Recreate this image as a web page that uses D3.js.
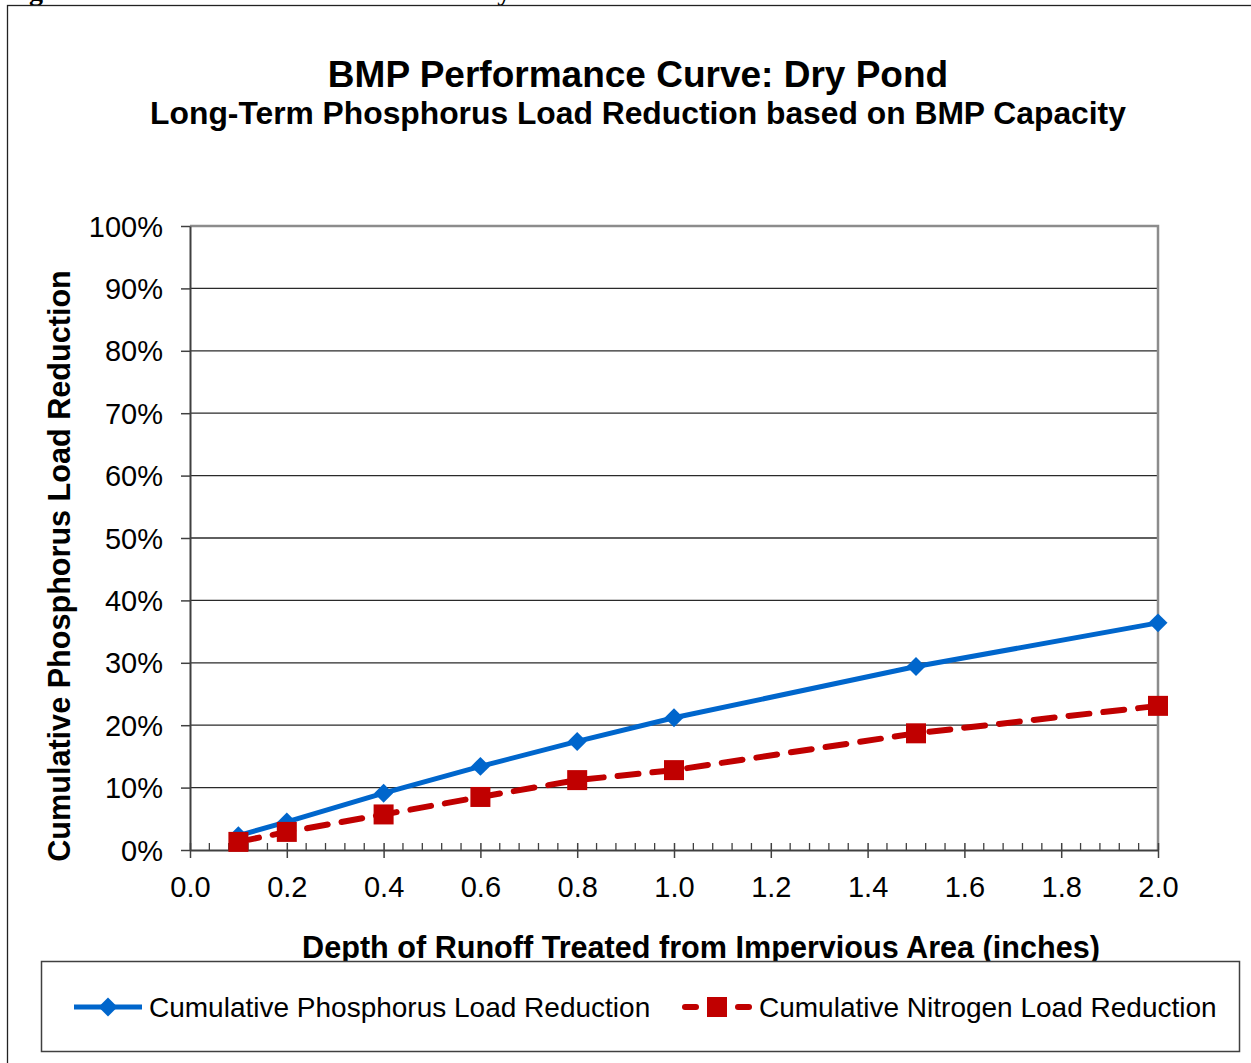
<!DOCTYPE html>
<html>
<head>
<meta charset="utf-8">
<script src="https://cdn.jsdelivr.net/npm/d3@7"></script>
<style>
  html, body { margin: 0; padding: 0; background: #fff; overflow: hidden; }
  svg { display: block; }
</style>
</head>
<body>
<div class="chart"></div>
<script>
"use strict";

// depth of runoff treated (inches)
var depths = [0.1, 0.2, 0.4, 0.6, 0.8, 1.0, 1.5, 2.0];
// cumulative load reduction (%)
var phosphorus = [2.3, 4.5, 9.1, 13.4, 17.4, 21.2, 29.4, 36.4];
var nitrogen = [1.3, 2.9, 5.7, 8.5, 11.2, 12.8, 18.7, 23.1];

var xTicks = [0.0, 0.2, 0.4, 0.6, 0.8, 1.0, 1.2, 1.4, 1.6, 1.8, 2.0];
var yTicks = [0, 10, 20, 30, 40, 50, 60, 70, 80, 90, 100];
var seriesNames = ["Cumulative Phosphorus Load Reduction", "Cumulative Nitrogen Load Reduction"];

var W = 1251, H = 1063;
var plot = { left: 190, right: 1158, top: 226, bottom: 850 };
var BLUE = "#0066CC", RED = "#C00000";

var svg = d3.select(".chart").append("svg")
    .attr("width", W)
    .attr("height", H)
    .style("font-family", "'Liberation Sans', Arial, sans-serif");

// figure caption cut off at the top of the page
svg.append("text")
    .attr("x", 4)
    .attr("y", 0)
    .style("font-family", "'Liberation Serif', 'Times New Roman', serif")
    .style("font-weight", "bold")
    .style("font-size", "28px")
    .text("Figure 3-7: BMP Performance Curve: Dry Pond");

// outer chart border
svg.append("rect")
    .attr("x", 7.5)
    .attr("y", 5.5)
    .attr("width", 1260)
    .attr("height", 1080)
    .attr("fill", "none")
    .attr("stroke", "#222")
    .attr("stroke-width", 1.3);

// titles
svg.append("text")
    .attr("x", 638)
    .attr("y", 87)
    .attr("text-anchor", "middle")
    .style("font-weight", "bold")
    .style("font-size", "37px")
    .text("BMP Performance Curve: Dry Pond");

svg.append("text")
    .attr("x", 638)
    .attr("y", 124)
    .attr("text-anchor", "middle")
    .style("font-weight", "bold")
    .style("font-size", "31.8px")
    .text("Long-Term Phosphorus Load Reduction based on BMP Capacity");

var x = d3.scaleLinear().domain([0, 2]).range([plot.left, plot.right]);
var y = d3.scaleLinear().domain([0, 100]).range([plot.bottom, plot.top]);

// horizontal gridlines
svg.append("g")
    .selectAll("line")
    .data(yTicks.filter(d => d > 0 && d < 100))
    .enter()
    .append("line")
    .attr("x1", plot.left)
    .attr("x2", plot.right)
    .attr("y1", d => y(d))
    .attr("y2", d => y(d))
    .attr("stroke", "#2a2a2a")
    .attr("stroke-width", 1.3);

// top and right plot border (grey)
svg.append("path")
    .attr("d", `M${plot.left},${y(100)}H${plot.right}V${plot.bottom}`)
    .attr("fill", "none")
    .attr("stroke", "#8c8c8c")
    .attr("stroke-width", 2.5);

// y axis
var yAxis = svg.append("g")
    .attr("transform", `translate(${plot.left},0)`)
    .call(d3.axisLeft(y).tickValues(yTicks).tickSizeInner(9).tickSizeOuter(0).tickPadding(18)
        .tickFormat(d => d + "%"));
yAxis.select(".domain").attr("stroke", "#404040").attr("stroke-width", 2);
yAxis.selectAll(".tick line").attr("stroke", "#404040").attr("stroke-width", 1.5);
yAxis.selectAll(".tick text")
    .attr("fill", "#000")
    .style("font-size", "29px")
    .attr("dy", "0.35em");

// x axis minor ticks (inside)
var minor = d3.range(0, 51).map(i => i * 0.04).filter(d => Math.abs(d * 5 - Math.round(d * 5)) > 1e-6);
svg.append("g")
    .selectAll("line")
    .data(minor)
    .enter()
    .append("line")
    .attr("x1", d => x(d))
    .attr("x2", d => x(d))
    .attr("y1", plot.bottom - 7)
    .attr("y2", plot.bottom)
    .attr("stroke", "#404040")
    .attr("stroke-width", 1.3);

// x axis major ticks (cross)
var xAxis = svg.append("g")
    .attr("transform", `translate(0,${plot.bottom})`)
    .call(d3.axisBottom(x).tickValues(xTicks).tickSizeInner(8).tickSizeOuter(0)
        .tickFormat(d3.format(".1f")));
xAxis.select(".domain").attr("stroke", "#404040").attr("stroke-width", 2);
xAxis.selectAll(".tick line").attr("y1", -7).attr("stroke", "#404040").attr("stroke-width", 1.5);
xAxis.selectAll(".tick text")
    .attr("fill", "#000")
    .attr("y", 47)
    .attr("dy", null)
    .style("font-size", "29px");

// axis titles
svg.append("text")
    .attr("transform", "translate(70,566) rotate(-90)")
    .attr("text-anchor", "middle")
    .style("font-weight", "bold")
    .style("font-size", "30.6px")
    .text("Cumulative Phosphorus Load Reduction");

svg.append("text")
    .attr("x", 701)
    .attr("y", 958)
    .attr("text-anchor", "middle")
    .style("font-weight", "bold")
    .style("font-size", "30.6px")
    .text("Depth of Runoff Treated from Impervious Area (inches)");

// series
var line = d3.line().x(d => x(d[0])).y(d => y(d[1]));
var pData = depths.map((d, i) => [d, phosphorus[i]]);
var nData = depths.map((d, i) => [d, nitrogen[i]]);

var diamond = d3.symbol().type(d3.symbolSquare).size(180);

svg.append("path")
    .attr("d", line(pData))
    .attr("fill", "none")
    .attr("stroke", BLUE)
    .attr("stroke-width", 5);

svg.append("g")
    .selectAll("path")
    .data(pData)
    .enter()
    .append("path")
    .attr("d", diamond)
    .attr("transform", d => `translate(${x(d[0])},${y(d[1])}) rotate(45)`)
    .attr("fill", BLUE);

svg.append("path")
    .attr("d", line(nData))
    .attr("fill", "none")
    .attr("stroke", RED)
    .attr("stroke-width", 6)
    .attr("stroke-linecap", "round")
    .attr("stroke-dasharray", "21,14");

svg.append("g")
    .selectAll("rect")
    .data(nData)
    .enter()
    .append("rect")
    .attr("x", d => x(d[0]) - 10)
    .attr("y", d => y(d[1]) - 10)
    .attr("width", 20)
    .attr("height", 20)
    .attr("fill", RED);

// legend
var legend = svg.append("g");
legend.append("rect")
    .attr("x", 41.5)
    .attr("y", 961.5)
    .attr("width", 1198)
    .attr("height", 90)
    .attr("fill", "#fff")
    .attr("stroke", "#404040")
    .attr("stroke-width", 1.5);

var ly = 1007;
legend.append("line")
    .attr("x1", 74).attr("x2", 142)
    .attr("y1", ly).attr("y2", ly)
    .attr("stroke", BLUE)
    .attr("stroke-width", 5);
legend.append("path")
    .attr("d", diamond)
    .attr("transform", `translate(108,${ly}) rotate(45)`)
    .attr("fill", BLUE);
legend.append("text")
    .attr("x", 149)
    .attr("y", ly + 10)
    .style("font-size", "28px")
    .text(seriesNames[0]);

legend.selectAll(".dash")
    .data([[685, 696], [738, 749]])
    .enter()
    .append("line")
    .attr("x1", d => d[0]).attr("x2", d => d[1])
    .attr("y1", ly).attr("y2", ly)
    .attr("stroke", RED)
    .attr("stroke-width", 6)
    .attr("stroke-linecap", "round");
legend.append("rect")
    .attr("x", 707).attr("y", ly - 10)
    .attr("width", 20).attr("height", 20)
    .attr("fill", RED);
legend.append("text")
    .attr("x", 759)
    .attr("y", ly + 10)
    .style("font-size", "28px")
    .text(seriesNames[1]);
</script>
</body>
</html>
